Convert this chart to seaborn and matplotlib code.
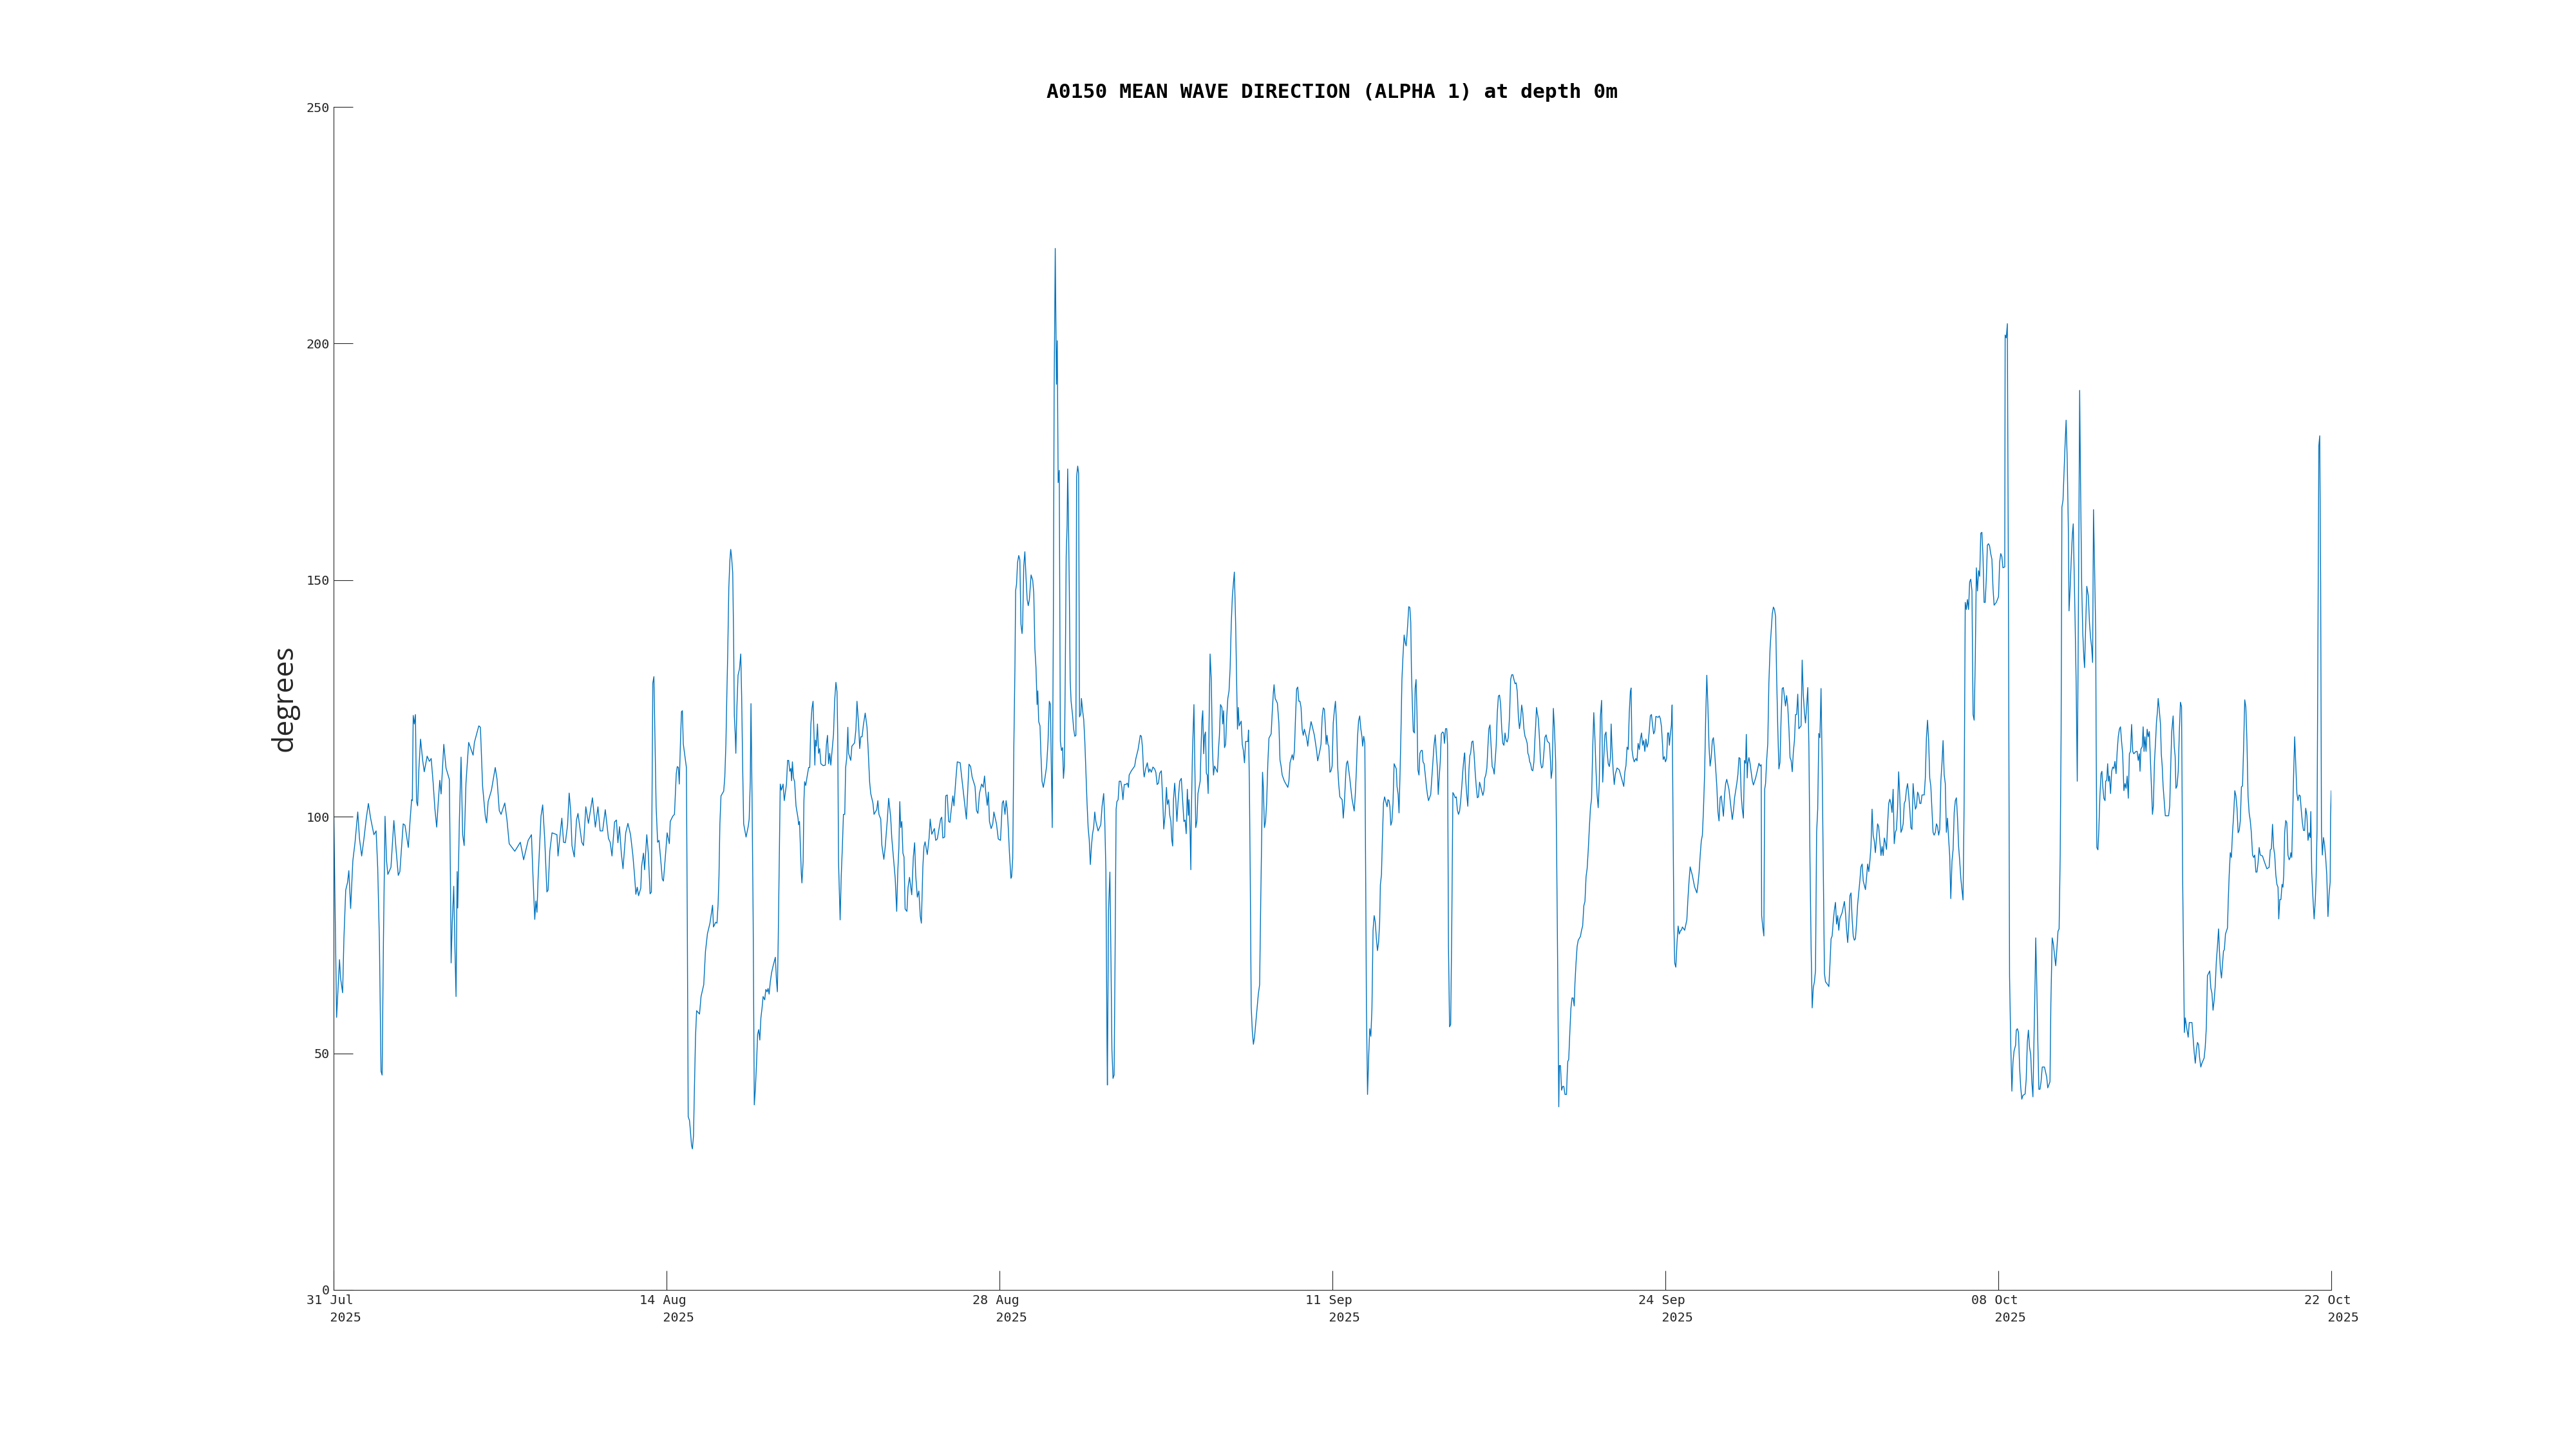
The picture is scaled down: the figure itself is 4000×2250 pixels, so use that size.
import pandas as pd
import matplotlib
matplotlib.use('Agg')
import matplotlib.pyplot as plt
import matplotlib.dates as mdates
import seaborn as sns

# buoy A0150, mean wave direction (alpha 1)
# each segment: (hours since 31 Jul 2025 00:00, degrees)
start = pd.Timestamp('2025-07-31 00:00')
title = 'A0150 MEAN WAVE DIRECTION (ALPHA 1) at depth 0m'
tick_days = ['31 Jul', '14 Aug', '28 Aug', '11 Sep', '24 Sep', '08 Oct', '22 Oct']
tick_year = '2025'
y_ticks = [0, 50, 100, 150, 200, 250]

seg_jul31 = [
    (0, 104.0), (3.0, 57.6), (5.9, 69.8), (7.0, 65.8), (9.0, 62.8), (10.3, 74.3), (12.1, 84.5),
    (13.9, 86.1), (15.2, 88.6), (17.0, 80.6), (19.2, 90.7), (21.4, 94.6), (24.1, 101.0),
    (25.8, 95.4), (28.0, 91.7), (30.3, 95.4), (32.5, 99.5), (34.7, 102.8), (36.9, 99.7),
    (40.2, 96.2), (42.4, 97.0), (44.0, 89.2), (45.7, 73.6), (47.3, 46.2), (48.4, 45.4),
    (49.7, 73.6), (51.3, 100.1), (52.8, 90.7), (54.1, 87.8), (57.2, 89.3), (60.1, 99.2),
    (62.3, 93.1), (64.5, 87.6), (66.1, 88.4), (69.4, 98.5), (71.2, 98.2), (74.5, 93.5),
    (76.3, 99.3), (77.8, 103.6), (78.5, 103.4), (79.4, 121.4), (80.5, 119.6), (81.6, 121.6),
    (82.7, 103.2), (83.8, 102.3), (85.1, 110.3), (86.7, 116.4), (88.9, 111.8), (90.4, 109.5),
    (93.3, 112.8), (95.5, 111.7), (97.3, 112.3), (99.3, 107.1), (101.0, 101.7), (102.8, 97.8),
    (104.4, 103.2), (105.9, 107.7), (107.2, 104.8), (109.9, 115.3), (112.1, 110.3),
    (115.4, 107.9), (116.5, 87.6), (117.2, 69.1), (118.3, 77.5), (119.8, 85.3), (121.0, 72.0),
    (122.1, 62.0), (123.2, 88.4), (123.8, 80.7), (125.4, 99.0), (127.1, 112.6), (128.7, 96.2),
    (130.2, 93.9), (132.0, 107.1), (134.7, 115.7), (139.1, 113.0), (140.4, 115.7),
    (144.8, 119.2), (146.4, 118.9), (148.6, 106.4), (151.3, 100.1), (152.6, 98.7),
    (154.1, 103.2), (157.4, 105.6), (161.2, 110.4), (163.0, 107.9), (165.2, 101.3),
    (167.0, 100.5), (170.7, 102.9), (172.9, 99.3), (175.1, 94.3), (180.7, 92.7), (186.2, 94.6),
    (189.5, 90.9), (194.0, 95.0), (197.3, 96.2), (198.8, 87.6), (200.6, 78.3), (201.7, 82.2),
    (202.8, 79.8), (203.9, 86.8), (206.8, 100.1), (208.5, 102.5), (210.5, 95.4), (212.7, 84.1),
    (213.9, 84.5), (215.6, 92.7), (217.8, 96.6), (222.7, 96.2), (223.8, 91.7), (226.0, 96.5),
    (227.6, 99.7), (229.3, 94.6), (231.1, 94.5), (233.3, 98.2), (234.9, 105.0), (236.4, 101.3),
    (237.7, 93.9), (240.0, 91.5), (242.2, 99.3), (243.7, 100.7), (247.5, 94.6), (249.2, 93.9),
    (251.5, 102.1), (254.1, 98.6), (258.1, 104.0), (261.0, 97.8), (263.6, 102.1),
    (265.8, 97.0), (268.3, 97.0), (270.9, 101.5), (274.1, 95.4), (275.8, 94.6), (277.6, 91.7),
    (280.2, 98.9), (282.0, 99.3), (283.5, 94.5), (285.1, 97.9), (286.9, 92.3), (288.6, 89.0),
    (291.3, 96.6), (293.5, 98.6), (296.1, 96.2), (298.4, 91.9), (300.1, 87.6), (301.4, 83.6),
    (302.8, 85.1), (304.1, 83.3), (306.3, 84.9), (307.2, 89.6), (309.0, 92.3), (310.1, 88.8),
    (312.3, 96.2), (313.8, 92.3), (315.6, 83.7), (316.9, 84.1), (318.3, 128.2), (319.4, 129.6),
    (321.6, 102.3), (323.1, 94.6), (324.5, 95.0), (325.8, 91.9), (327.8, 86.8), (328.9, 86.4),
    (331.1, 92.3), (332.6, 96.6), (334.8, 94.3), (335.7, 99.0), (338.2, 100.1), (339.9, 100.5),
    (341.7, 109.1),
]

seg_aug14 = [
    (342.7, 110.6), (343.8, 110.4), (344.7, 106.9), (346.1, 117.4), (346.9, 122.2),
    (347.8, 122.4), (348.7, 115.4), (350.9, 111.9), (351.8, 110.4), (352.7, 77.5),
    (353.6, 36.6), (354.9, 35.8), (355.8, 33.6), (356.9, 30.6), (357.8, 29.8), (358.9, 32.6),
    (359.8, 42.6), (360.9, 53.5), (362.0, 59.0), (364.9, 58.3), (366.4, 62.0), (369.1, 64.5),
    (370.8, 71.5), (372.8, 75.3), (375.3, 77.5), (377.9, 81.3), (378.8, 76.7), (381.0, 77.7),
    (382.3, 77.5), (383.4, 81.5), (384.3, 87.5), (385.2, 98.5), (386.3, 104.4), (389.0, 105.4),
    (390.1, 108.4), (391.2, 115.4), (392.1, 125.4), (393.0, 134.4), (394.1, 148.4),
    (395.2, 154.3), (396.0, 156.5), (396.9, 154.8), (398.0, 151.5), (398.9, 137.4),
    (399.6, 121.4), (400.5, 117.4), (401.1, 113.4), (402.2, 123.4), (403.3, 129.9),
    (404.7, 131.2), (406.0, 134.4), (406.9, 125.4), (408.0, 109.4), (408.9, 98.5),
    (410.2, 97.0), (411.3, 95.7), (413.5, 98.0), (414.4, 99.5), (415.5, 107.4), (416.2, 123.9),
    (417.3, 103.4), (418.4, 77.5), (419.5, 39.1), (420.6, 42.6), (421.7, 47.6), (422.8, 54.0),
    (423.9, 55.0), (425.0, 52.8), (426.1, 57.5), (427.2, 59.5), (428.3, 62.0), (429.9, 61.3),
    (431.0, 63.5), (432.3, 63.0), (433.2, 63.7), (434.3, 62.5), (435.4, 65.0), (436.7, 67.0),
    (438.3, 68.5), (440.5, 70.3), (441.6, 65.5), (442.5, 63.0), (443.4, 74.5), (444.3, 89.5),
    (445.4, 106.9), (446.5, 105.6), (448.2, 106.9), (449.4, 103.4), (451.6, 106.9),
    (452.7, 111.9), (453.8, 111.9), (454.9, 109.6), (456.0, 110.2), (456.7, 107.6),
    (457.5, 111.6), (458.6, 108.2), (459.7, 107.4), (461.1, 102.3), (463.1, 99.7),
    (463.7, 98.3), (464.6, 99.0), (465.5, 93.5), (466.4, 88.0), (467.0, 86.0), (468.2, 90.5),
    (469.0, 103.4), (469.7, 107.4), (470.8, 106.6), (472.1, 108.4), (473.7, 110.4),
    (474.8, 110.4), (475.9, 119.4), (477.0, 122.9), (478.1, 124.4), (479.2, 116.4),
    (479.9, 110.9), (480.5, 116.2), (481.4, 114.9), (482.5, 119.6), (483.6, 113.4),
    (484.7, 114.4), (485.9, 111.2), (488.1, 110.8), (490.3, 110.9), (491.4, 115.2),
    (492.5, 117.2), (493.6, 111.2), (494.7, 113.4), (495.8, 110.9), (498.5, 117.4),
    (499.6, 124.4), (500.9, 128.4), (502.0, 126.4), (502.7, 117.4), (503.5, 90.5),
    (505.1, 78.2), (506.2, 87.5), (507.3, 93.5), (508.4, 100.5), (509.7, 100.5),
    (510.6, 110.4), (511.7, 112.4), (512.8, 118.9), (513.5, 113.4), (515.7, 111.9),
    (516.8, 114.9), (519.5, 115.6), (520.8, 118.4), (521.9, 124.4), (523.5, 119.6),
    (524.6, 114.4), (525.7, 116.9), (527.0, 116.9), (528.3, 119.4), (530.1, 121.9),
    (531.9, 118.9), (533.0, 114.4), (534.5, 107.4), (535.6, 104.9), (537.8, 102.9),
    (538.9, 100.5), (541.6, 101.5), (542.7, 103.4), (543.8, 100.5), (545.6, 99.5),
    (546.7, 94.0), (548.7, 91.0), (550.0, 93.5), (552.2, 99.5), (553.5, 103.9), (555.5, 99.9),
    (556.6, 95.5), (558.8, 90.0), (560.0, 87.0), (561.5, 80.0), (562.6, 88.5), (563.7, 93.5),
    (564.6, 103.2), (565.5, 97.7), (566.6, 99.0), (567.7, 92.3), (568.8, 91.5), (569.9, 80.5),
    (571.7, 80.0), (572.8, 85.0), (574.3, 87.2), (576.5, 83.5), (578.1, 91.5), (579.4, 94.5),
    (580.5, 87.5), (582.1, 83.0), (583.6, 84.3), (585.0, 79.0), (586.1, 77.5), (587.6, 89.5),
    (588.7, 93.7), (589.8, 94.7), (592.0, 92.0), (593.8, 95.5), (594.9, 99.5), (596.5, 96.3),
    (599.1, 97.5), (600.4, 95.0), (602.0, 95.3), (605.3, 99.5), (606.4, 99.9), (607.5, 95.5),
    (609.3, 95.7), (610.4, 104.4), (611.9, 104.6), (613.3, 99.0), (614.6, 98.8),
    (615.9, 101.5), (617.5, 104.4), (618.6, 102.3), (620.3, 107.4), (621.9, 111.6),
    (624.8, 111.4), (626.3, 108.4), (628.8, 103.6), (631.0, 99.5), (632.3, 105.4),
    (633.6, 111.1), (635.2, 110.6), (636.7, 108.4), (639.6, 106.4), (641.1, 101.3),
    (642.5, 100.7), (644.0, 104.9), (646.2, 106.9), (647.8, 106.2), (649.1, 108.6),
    (650.2, 105.4), (651.8, 102.4), (652.9, 105.2), (654.0, 99.0), (655.7, 97.5),
    (657.3, 98.5), (658.4, 101.0), (661.0, 98.5), (662.8, 95.3), (665.0, 95.0), (666.8, 102.9),
    (667.9, 103.4), (669.5, 100.5), (670.6, 103.4), (671.7, 101.6), (672.8, 97.5),
    (673.9, 92.5), (675.4, 87.0),
]

seg_aug28 = [
    (676.1, 87.3), (677.2, 91.2), (678.3, 114.6), (679.4, 131.5), (680.1, 147.8),
    (681.0, 149.1), (682.0, 153.7), (683.2, 155.2), (684.3, 154.3), (685.4, 140.7),
    (686.5, 138.7), (687.1, 140.7), (688.2, 153.0), (689.3, 156.0), (690.5, 150.4),
    (691.6, 145.9), (692.7, 144.6), (693.8, 145.9), (695.5, 151.1), (697.1, 150.0),
    (698.2, 147.2), (699.3, 135.5), (700.4, 131.5), (701.5, 123.7), (702.2, 126.6),
    (703.1, 120.1), (704.4, 119.2), (705.3, 113.3), (706.4, 107.5), (707.7, 106.2),
    (709.3, 108.1), (711.0, 110.7), (712.4, 115.9), (713.7, 124.4), (714.8, 123.7),
    (715.4, 114.6), (716.6, 97.7), (717.7, 140.7), (718.5, 190.1), (719.6, 220.1),
    (720.8, 191.4), (721.6, 200.6), (722.5, 170.6), (723.6, 173.2), (724.7, 115.9),
    (725.8, 114.0), (726.9, 114.6), (727.8, 108.1), (728.7, 110.7), (729.6, 130.2),
    (730.5, 155.0), (731.4, 161.5), (732.0, 173.5), (732.7, 164.1), (733.6, 148.5),
    (734.5, 128.9), (735.4, 124.4), (736.7, 121.8), (738.0, 118.5), (739.1, 117.0),
    (740.2, 117.2), (740.9, 171.9), (742.0, 174.1), (742.9, 172.6), (743.8, 121.1),
    (745.1, 121.8), (745.7, 125.0), (746.9, 122.4), (748.0, 120.5), (749.1, 115.9),
    (750.2, 109.4), (751.3, 102.9), (752.4, 97.7), (753.5, 95.1), (754.6, 89.9), (755.7, 93.8),
    (756.8, 96.4), (757.9, 97.7), (759.0, 101.0), (760.1, 99.0), (762.3, 97.0), (765.0, 98.3),
    (766.3, 102.2), (767.9, 104.9), (769.0, 99.0), (770.1, 88.6), (771.2, 52.1), (771.6, 43.3),
    (772.7, 80.1), (774.1, 88.3), (775.2, 69.0), (776.1, 50.8), (777.2, 44.7), (778.3, 45.4),
    (779.2, 69.0), (780.3, 101.6), (781.1, 103.2), (782.3, 103.6), (783.4, 107.5),
    (784.9, 107.5), (786.0, 106.2), (787.1, 103.6), (788.4, 106.8), (790.0, 106.8),
    (791.5, 107.1), (792.6, 106.2), (793.3, 108.8), (795.5, 109.7), (798.8, 110.7),
    (800.0, 112.3), (802.2, 114.2), (804.4, 117.2), (805.5, 117.0), (806.6, 114.6),
    (807.7, 109.4), (808.3, 108.4), (809.7, 110.1), (811.4, 111.4), (812.8, 109.4),
    (813.9, 110.1), (815.4, 109.4), (817.0, 110.5), (818.7, 110.1), (819.9, 109.4),
    (821.2, 106.8), (822.5, 107.1), (823.8, 109.2), (825.4, 109.7), (826.9, 102.9),
    (827.8, 97.4), (829.1, 100.3), (830.5, 106.2), (831.4, 102.6), (832.7, 103.6),
    (833.8, 100.3), (834.9, 99.0), (835.8, 95.1), (836.7, 93.8), (837.5, 103.6),
    (838.7, 107.1), (839.8, 103.6), (840.9, 99.0), (842.0, 102.9), (843.7, 107.5),
    (845.3, 108.1), (846.8, 102.9), (847.9, 99.0), (849.1, 99.3), (850.2, 96.4),
    (851.3, 105.8), (852.4, 100.3), (853.0, 103.6), (854.1, 96.4), (854.8, 88.8),
    (855.2, 99.0), (856.4, 113.3), (857.9, 123.7), (858.8, 110.7), (859.7, 97.7),
    (860.8, 99.0), (861.9, 104.9), (863.0, 106.2), (864.1, 107.5), (865.0, 114.6),
    (865.9, 120.5), (866.7, 122.4), (867.6, 113.3), (868.5, 117.2), (869.4, 117.9),
    (870.3, 109.2), (871.2, 108.8), (872.1, 104.9), (872.9, 118.5), (874.0, 134.4),
    (875.2, 128.9), (876.3, 114.6), (877.4, 108.8), (878.5, 110.7), (881.3, 109.4),
    (882.5, 114.6), (883.3, 117.2), (884.4, 123.7), (885.8, 123.1), (886.6, 119.6),
    (887.5, 122.4), (888.4, 114.6), (889.5, 115.3), (890.6, 121.1), (891.7, 125.0),
    (892.9, 126.6), (894.0, 131.5), (895.1, 140.7), (896.2, 146.5), (897.3, 149.5),
    (898.2, 151.7), (899.5, 140.7), (900.6, 127.6), (901.3, 118.5), (902.1, 123.1),
    (903.0, 119.2), (905.0, 120.2), (906.1, 115.3), (907.2, 114.0), (908.3, 111.4),
    (909.4, 115.9), (911.7, 115.9), (912.3, 118.3), (913.2, 106.8), (914.1, 86.0),
    (915.0, 59.9), (916.1, 54.7), (917.2, 51.9), (918.3, 53.4), (919.4, 56.0), (920.5, 58.6),
    (922.1, 62.5), (923.4, 64.5), (924.5, 82.1), (925.4, 95.1), (926.3, 109.4),
    (927.1, 106.2), (928.2, 97.7), (929.3, 99.0), (930.4, 102.9), (931.6, 111.4),
    (932.7, 116.6), (934.9, 117.5), (936.0, 122.2), (937.1, 126.3), (937.8, 127.9),
    (938.9, 125.0), (941.1, 124.0), (942.6, 119.8), (943.7, 112.0), (944.8, 110.7),
    (945.9, 108.8), (948.1, 107.5), (951.5, 106.2), (952.6, 107.5), (953.7, 111.4),
    (955.9, 113.1), (957.0, 112.0), (958.1, 114.0), (959.2, 121.1), (960.3, 127.0),
    (961.4, 127.4), (962.5, 124.4), (963.6, 124.4), (964.7, 123.1), (965.8, 118.5),
    (966.9, 117.2), (968.0, 118.5), (970.3, 116.6), (971.4, 114.9), (972.5, 117.2),
    (974.7, 120.1), (975.8, 119.2), (978.0, 117.2), (980.2, 114.0), (981.3, 111.8),
    (983.5, 114.0), (984.6, 115.3), (985.8, 121.1), (986.9, 123.0), (988.0, 122.7),
    (989.1, 118.5), (989.7, 115.3), (990.6, 117.2), (991.5, 115.3), (992.4, 114.9),
    (993.5, 109.4), (994.6, 109.7), (995.7, 110.7), (996.8, 119.8), (997.9, 122.4),
    (999.0, 124.4), (1000.1, 119.6), (1001.2, 110.7), (1002.3, 106.8), (1003.4, 104.2),
    (1005.7, 103.6), (1006.8, 99.7), (1007.9, 102.9), (1009.4, 109.4),
]

seg_sep11 = [
    (1010.0, 111.2), (1011.1, 111.8), (1013.3, 108.1), (1015.5, 103.8), (1017.7, 101.2),
    (1018.8, 104.7), (1019.9, 109.9), (1021.0, 116.8), (1022.1, 120.3), (1023.2, 121.3),
    (1024.3, 118.6), (1025.5, 116.8), (1026.1, 114.9), (1027.2, 117.0), (1028.3, 115.5),
    (1029.2, 85.6), (1029.9, 59.5), (1031.0, 41.3), (1032.1, 49.1), (1033.2, 55.2),
    (1034.3, 53.6), (1035.4, 59.5), (1036.5, 76.0), (1037.6, 79.1), (1038.7, 77.8),
    (1039.8, 74.3), (1040.9, 71.7), (1042.0, 73.4), (1043.1, 77.8), (1043.8, 85.6),
    (1044.9, 87.8), (1045.8, 95.1), (1046.9, 102.9), (1048.0, 104.2), (1049.3, 103.1),
    (1050.5, 102.1), (1051.3, 103.6), (1052.4, 103.4), (1053.3, 102.1), (1054.2, 98.2),
    (1055.3, 99.0), (1056.4, 102.9), (1057.5, 111.2), (1059.7, 110.1), (1060.4, 106.4),
    (1061.5, 104.7), (1062.4, 100.8), (1063.5, 109.9), (1064.4, 118.6), (1065.3, 129.0),
    (1066.4, 134.2), (1067.5, 138.4), (1068.6, 136.8), (1069.5, 136.1), (1070.4, 138.5),
    (1071.2, 141.1), (1072.1, 144.4), (1073.2, 144.2), (1074.1, 141.1), (1074.8, 130.7),
    (1075.7, 123.8), (1076.6, 118.1), (1077.7, 117.7), (1078.5, 127.2), (1079.4, 129.0),
    (1080.3, 122.0), (1081.2, 109.9), (1082.3, 108.8), (1083.2, 113.4), (1084.5, 114.0),
    (1085.6, 114.0), (1086.3, 111.6), (1087.4, 111.2), (1088.5, 109.0), (1089.6, 106.6),
    (1090.7, 104.7), (1091.8, 103.4), (1094.0, 104.7), (1095.1, 108.1), (1096.2, 111.6),
    (1097.3, 115.1), (1098.5, 117.3), (1099.6, 113.4), (1100.7, 110.1), (1101.5, 104.7),
    (1102.4, 108.1), (1103.5, 111.6), (1104.6, 117.5), (1105.8, 117.9), (1106.9, 117.7),
    (1107.7, 115.5), (1108.8, 118.6), (1110.0, 118.6), (1110.8, 115.1), (1111.7, 72.6),
    (1112.8, 55.6), (1113.9, 56.1), (1115.0, 76.9), (1116.1, 105.1), (1117.2, 104.7),
    (1118.4, 104.0), (1119.5, 104.2), (1120.6, 101.4), (1121.7, 100.5), (1122.8, 101.2),
    (1123.9, 103.4), (1125.0, 106.4), (1126.1, 109.9), (1127.2, 112.5), (1127.9, 113.5),
    (1128.8, 108.1), (1129.9, 104.7), (1131.0, 102.2), (1132.1, 109.9), (1133.0, 112.9),
    (1133.8, 113.4), (1135.0, 115.8), (1136.1, 116.0), (1137.2, 113.4), (1138.3, 109.5),
    (1139.4, 106.4), (1140.5, 104.0), (1141.6, 104.2), (1142.7, 107.3), (1143.8, 106.4),
    (1144.9, 105.4), (1146.0, 104.5), (1147.1, 105.5), (1147.8, 108.1), (1148.9, 108.8),
    (1150.0, 110.3), (1151.1, 115.1), (1152.0, 118.6), (1153.1, 119.4), (1154.2, 115.1),
    (1155.3, 110.6), (1156.4, 110.1), (1157.3, 109.0), (1158.2, 111.6), (1159.3, 115.1),
    (1160.4, 122.0), (1161.5, 125.5), (1162.6, 125.7), (1163.7, 123.8), (1164.8, 118.6),
    (1165.9, 115.5), (1167.0, 115.1), (1168.1, 117.7), (1169.2, 116.1), (1170.3, 115.8),
    (1171.4, 116.8), (1172.6, 121.2), (1173.7, 129.0), (1174.8, 130.0), (1175.9, 130.0),
    (1177.0, 129.0), (1178.1, 128.1), (1179.2, 128.3), (1180.3, 126.4), (1181.4, 121.2),
    (1182.5, 118.6), (1183.6, 120.3), (1184.7, 123.6), (1185.8, 122.0), (1186.9, 118.6),
    (1188.0, 117.0), (1189.1, 116.4), (1190.2, 115.5), (1190.9, 113.4), (1191.8, 112.9),
    (1192.7, 111.6), (1193.6, 111.2), (1194.7, 109.9), (1195.8, 109.7), (1196.9, 111.6),
    (1198.0, 116.8), (1198.7, 119.4), (1199.5, 123.1), (1200.2, 122.0), (1201.3, 120.7),
    (1202.4, 116.8), (1203.5, 111.6), (1204.6, 110.3), (1205.7, 110.6), (1206.8, 113.4),
    (1207.9, 116.8), (1209.1, 117.3), (1210.2, 116.0), (1212.4, 115.5), (1213.5, 111.6),
    (1214.1, 108.1), (1215.2, 109.9), (1216.3, 122.9), (1217.4, 118.6), (1218.6, 111.6),
    (1219.5, 94.3), (1220.6, 68.2), (1221.7, 38.7), (1222.3, 47.4), (1223.4, 47.4),
    (1224.5, 42.2), (1225.6, 43.0), (1226.7, 43.0), (1227.9, 41.3), (1229.4, 41.3),
    (1230.1, 45.7), (1230.7, 48.3), (1231.6, 48.7), (1232.7, 54.3), (1233.8, 59.5),
    (1234.9, 61.7), (1236.0, 61.7), (1237.1, 60.0), (1237.8, 64.7), (1238.9, 69.1),
    (1240.0, 72.6), (1241.1, 73.9), (1242.2, 74.3), (1243.3, 74.7), (1244.4, 76.0),
    (1245.5, 76.9), (1246.7, 81.2), (1247.8, 82.1), (1248.9, 87.3), (1250.0, 89.1),
    (1251.1, 93.0), (1252.2, 97.7), (1253.3, 101.9), (1254.4, 103.8), (1255.5, 114.2),
    (1256.6, 122.0), (1257.7, 116.8), (1258.8, 109.9), (1259.9, 104.7), (1261.0, 101.9),
    (1262.1, 107.3), (1263.2, 121.2), (1264.4, 124.6), (1265.5, 107.3), (1266.6, 112.5),
    (1267.7, 117.3), (1268.8, 117.9), (1269.9, 113.8), (1271.0, 111.2), (1272.1, 110.6),
    (1273.2, 112.5), (1273.9, 119.6), (1274.7, 115.1), (1275.9, 109.9), (1277.0, 106.8),
    (1278.1, 109.0), (1279.8, 110.3), (1282.0, 109.9), (1284.3, 108.1), (1286.5, 106.4),
    (1287.6, 109.5), (1288.7, 110.8), (1289.8, 114.7), (1290.9, 114.2), (1292.0, 122.0),
    (1293.1, 126.5), (1293.8, 127.2), (1294.7, 114.2), (1295.8, 112.5), (1296.9, 111.6),
    (1298.6, 112.3), (1299.7, 111.8), (1300.8, 115.5), (1302.0, 114.2), (1303.1, 116.4),
    (1304.2, 117.7), (1305.3, 115.1), (1306.4, 116.1), (1307.5, 113.8), (1308.6, 116.4),
    (1309.7, 114.7), (1310.8, 115.5), (1311.9, 118.1), (1313.0, 121.3), (1314.1, 121.6),
    (1315.2, 119.4), (1316.3, 117.5), (1317.4, 118.1), (1318.5, 121.2), (1320.8, 121.0),
    (1321.9, 121.3), (1323.0, 120.7), (1324.1, 119.0), (1325.2, 115.1), (1325.8, 112.1),
    (1327.0, 112.7), (1328.1, 111.6), (1329.2, 112.3), (1330.3, 117.7), (1331.2, 117.7),
    (1332.0, 115.1), (1332.9, 117.3), (1334.0, 119.4), (1334.7, 123.6), (1335.6, 99.5),
    (1336.5, 76.9), (1337.3, 69.1), (1338.4, 68.2), (1339.6, 73.4), (1340.7, 76.9),
    (1341.8, 75.2), (1343.3, 76.0),
]

seg_sep24 = [
    (1343.9, 76.0), (1345.0, 76.7), (1347.2, 76.0), (1349.4, 78.2), (1350.5, 82.7),
    (1351.6, 86.4), (1352.7, 89.4), (1354.9, 87.6), (1357.1, 85.2), (1359.4, 83.9),
    (1360.5, 85.8), (1361.6, 88.2), (1362.7, 91.8), (1363.8, 94.9), (1364.9, 96.1),
    (1366.0, 101.6), (1367.1, 108.9), (1368.2, 121.0), (1369.3, 129.9), (1370.4, 123.4),
    (1371.5, 114.9), (1372.6, 110.7), (1373.7, 112.5), (1374.8, 116.1), (1375.9, 116.7),
    (1377.1, 113.7), (1378.2, 110.1), (1379.3, 106.4), (1380.4, 101.0), (1381.5, 99.1),
    (1382.6, 104.0), (1383.7, 104.4), (1385.9, 100.1), (1387.0, 104.6), (1388.1, 107.0),
    (1389.2, 107.9), (1391.4, 105.8), (1393.6, 101.6), (1394.7, 99.4), (1395.9, 101.3),
    (1397.0, 104.0), (1399.2, 107.0), (1400.3, 108.9), (1401.4, 112.5), (1402.5, 112.3),
    (1403.6, 104.6), (1404.7, 101.6), (1405.8, 99.7), (1406.9, 111.9), (1408.0, 111.3),
    (1408.7, 117.4), (1409.6, 108.2), (1410.2, 111.3), (1411.3, 112.5), (1412.4, 111.3),
    (1414.7, 107.6), (1415.8, 106.7), (1418.0, 108.2), (1419.1, 109.2), (1421.3, 111.3),
    (1422.4, 110.7), (1423.5, 111.0), (1424.0, 79.1), (1425.1, 76.7), (1426.2, 74.8),
    (1427.0, 105.8), (1427.9, 107.0), (1429.0, 111.9), (1430.1, 115.5), (1431.2, 128.3),
    (1432.4, 135.6), (1433.5, 139.2), (1434.6, 142.9), (1435.7, 144.3), (1436.8, 143.8),
    (1437.9, 142.3), (1439.0, 128.9), (1440.1, 118.6), (1441.2, 110.1), (1442.3, 111.5),
    (1443.4, 121.0), (1444.5, 127.1), (1445.6, 127.3), (1447.8, 123.4), (1448.9, 125.6),
    (1450.0, 123.4), (1451.2, 118.6), (1452.3, 112.5), (1453.4, 111.9), (1454.5, 109.5),
    (1455.6, 113.7), (1456.7, 116.1), (1457.8, 121.6), (1458.9, 121.6), (1460.0, 125.9),
    (1461.1, 118.6), (1463.3, 119.2), (1464.4, 133.1), (1465.5, 125.9), (1466.6, 122.2),
    (1467.7, 119.8), (1468.9, 123.4), (1470.0, 127.3), (1471.1, 114.9), (1472.2, 90.6),
    (1473.3, 72.4), (1474.4, 59.6), (1475.5, 63.9), (1476.6, 65.1), (1477.7, 67.5),
    (1478.8, 96.7), (1479.9, 101.6), (1481.0, 117.6), (1482.1, 116.7), (1483.2, 127.1),
    (1484.3, 111.3), (1485.4, 90.6), (1486.6, 66.9), (1487.7, 65.1), (1489.9, 64.5),
    (1491.0, 64.1), (1492.1, 68.8), (1493.2, 74.2), (1494.3, 74.8), (1495.4, 77.9),
    (1496.5, 80.3), (1497.6, 81.9), (1498.7, 77.3), (1499.8, 79.1), (1500.9, 76.0),
    (1502.0, 78.5), (1504.2, 79.7), (1506.5, 82.1), (1507.6, 79.7), (1508.7, 76.0),
    (1509.8, 73.4), (1510.9, 77.3), (1512.0, 83.3), (1513.1, 83.9), (1514.2, 78.5),
    (1515.3, 74.8), (1516.4, 73.9), (1517.5, 74.2), (1518.6, 77.3), (1519.7, 81.5),
    (1520.8, 83.9), (1521.9, 86.4), (1523.0, 89.4), (1524.2, 90.0), (1525.3, 86.4),
    (1527.5, 84.6), (1528.6, 87.2), (1529.7, 90.0), (1530.8, 88.4), (1531.9, 90.6),
    (1533.0, 93.7), (1534.1, 101.6), (1535.2, 96.1), (1536.3, 94.9), (1537.4, 92.4),
    (1538.5, 95.5), (1539.6, 98.5), (1540.7, 97.9), (1541.8, 94.9), (1543.0, 91.8),
    (1544.1, 93.7), (1545.2, 91.8), (1546.3, 95.5), (1547.4, 94.5), (1548.5, 93.1),
    (1549.6, 98.5), (1550.7, 102.8), (1551.8, 103.7), (1552.9, 102.8), (1554.0, 100.9),
    (1555.1, 105.8), (1556.2, 94.3), (1557.3, 96.7), (1558.4, 97.3), (1559.5, 101.6),
    (1560.6, 109.5), (1561.8, 104.0), (1562.9, 96.7), (1564.0, 97.3), (1565.1, 98.5),
    (1566.2, 102.8), (1567.3, 103.4), (1568.4, 105.8), (1569.5, 107.0), (1570.6, 104.6),
    (1571.7, 101.6), (1572.8, 97.7), (1573.9, 97.3), (1575.0, 107.0), (1576.1, 104.0),
    (1577.3, 101.6), (1578.4, 102.2), (1579.5, 105.2), (1580.6, 104.6), (1581.7, 102.8),
    (1582.8, 102.8), (1583.9, 104.6), (1586.1, 104.6), (1587.2, 108.2), (1588.3, 116.7),
    (1589.4, 120.4), (1590.5, 116.1), (1591.6, 108.2), (1592.7, 106.4), (1593.8, 101.6),
    (1594.9, 96.7), (1596.0, 96.1), (1597.2, 96.7), (1598.3, 98.5), (1599.4, 97.9),
    (1600.5, 96.1), (1601.6, 97.3), (1602.7, 107.6), (1603.8, 111.3), (1604.9, 116.1),
    (1606.0, 108.9), (1607.1, 107.0), (1608.2, 96.7), (1609.3, 99.7), (1610.4, 95.5),
    (1611.5, 91.8), (1612.6, 82.7), (1613.8, 90.6), (1614.9, 93.1), (1616.0, 100.9),
    (1617.1, 103.4), (1618.2, 104.0), (1619.3, 99.7), (1620.4, 93.7), (1621.5, 90.6),
    (1622.6, 87.0), (1623.7, 84.6), (1624.8, 82.4), (1625.9, 102.8), (1627.0, 145.3),
    (1628.1, 143.8), (1629.2, 145.9), (1630.3, 143.8), (1631.4, 149.6), (1632.5, 150.2),
    (1633.7, 147.7), (1634.8, 121.6), (1635.9, 120.4), (1637.0, 133.1), (1638.1, 152.6),
    (1639.2, 147.7), (1640.3, 152.0), (1641.4, 150.8), (1642.5, 159.9), (1643.6, 160.1),
    (1644.7, 155.0), (1645.8, 145.3), (1646.9, 145.3), (1648.0, 150.2), (1649.1, 157.4),
    (1650.2, 157.7), (1651.3, 157.2), (1652.4, 155.6), (1653.6, 154.4), (1654.7, 148.3),
    (1655.8, 144.7), (1658.0, 145.3), (1660.2, 146.5), (1661.3, 153.8), (1662.4, 155.6),
    (1663.5, 155.0), (1664.6, 152.6), (1666.4, 152.8), (1666.8, 201.8), (1667.9, 201.2),
    (1669.0, 204.2), (1670.1, 145.3), (1671.2, 66.3), (1672.4, 51.7), (1673.5, 42.0),
    (1674.6, 48.1), (1675.7, 50.5), (1677.2, 51.7),
]

seg_oct08 = [
    (1677.9, 54.9), (1679.0, 55.2), (1680.1, 54.4), (1681.2, 47.1), (1682.3, 42.9),
    (1683.4, 40.3), (1684.5, 41.1), (1686.7, 41.4), (1687.8, 44.5), (1688.9, 52.3),
    (1690.0, 54.9), (1691.1, 51.3), (1692.3, 49.7), (1693.4, 44.0), (1694.5, 40.8),
    (1695.6, 53.4), (1696.7, 65.9), (1697.3, 74.4), (1698.2, 65.9), (1699.3, 53.4),
    (1700.4, 42.4), (1701.5, 42.4), (1702.6, 44.0), (1703.8, 47.1), (1706.0, 47.1),
    (1708.2, 45.0), (1709.3, 42.7), (1711.5, 44.0), (1712.4, 60.6), (1713.7, 74.4),
    (1714.8, 73.2), (1715.9, 71.1), (1717.2, 68.5), (1718.4, 72.1), (1719.5, 75.8),
    (1720.6, 76.3), (1721.7, 91.9), (1722.6, 118.0), (1723.4, 165.4), (1724.5, 166.9),
    (1725.6, 173.2), (1726.5, 178.4), (1727.6, 183.8), (1728.7, 175.3), (1729.9, 159.6),
    (1730.5, 143.5), (1731.6, 148.2), (1732.7, 154.4), (1733.8, 159.6), (1734.7, 161.9),
    (1735.4, 154.4), (1736.5, 141.9), (1737.6, 128.4), (1738.7, 107.5), (1739.4, 128.4),
    (1740.3, 159.6), (1741.1, 190.1), (1742.0, 170.1), (1743.1, 149.2), (1744.2, 138.8),
    (1745.3, 133.6), (1746.0, 131.5), (1746.9, 138.8), (1748.2, 148.7), (1749.8, 146.6),
    (1750.9, 140.9), (1752.0, 137.8), (1753.1, 135.7), (1754.0, 132.6), (1754.9, 164.9),
    (1756.0, 152.3), (1757.1, 138.8), (1757.5, 118.0), (1758.2, 93.5), (1759.3, 93.0),
    (1760.2, 97.1), (1761.3, 104.4), (1762.4, 109.1), (1763.3, 109.6), (1764.1, 106.5),
    (1765.2, 103.9), (1766.4, 103.4), (1767.0, 107.5), (1768.1, 107.7), (1769.0, 111.2),
    (1769.9, 107.5), (1770.8, 108.6), (1771.9, 104.9), (1773.0, 109.6), (1774.1, 110.5),
    (1775.2, 110.2), (1776.3, 111.7), (1777.4, 109.1), (1778.5, 113.8), (1779.6, 116.9),
    (1780.7, 118.5), (1781.8, 119.0), (1782.9, 115.9), (1784.0, 113.3), (1785.2, 105.5),
    (1786.3, 107.0), (1787.4, 106.0), (1788.5, 108.6), (1789.6, 103.9), (1790.7, 113.3),
    (1791.8, 113.8), (1792.9, 119.5), (1794.0, 113.8), (1795.1, 113.3), (1797.3, 113.8),
    (1798.4, 113.8), (1799.5, 111.9), (1800.6, 113.3), (1801.3, 109.6), (1802.2, 114.3),
    (1803.5, 114.8), (1804.4, 119.0), (1805.3, 113.8), (1806.2, 116.9), (1807.3, 113.8),
    (1808.4, 118.5), (1809.5, 116.9), (1810.6, 118.0), (1811.7, 111.7), (1812.8, 105.5),
    (1813.7, 100.5), (1814.6, 102.3), (1815.7, 111.7), (1816.8, 115.9), (1817.7, 120.0),
    (1818.6, 122.1), (1819.4, 125.0), (1820.5, 122.6), (1821.7, 119.5), (1822.5, 113.3),
    (1823.4, 110.7), (1824.3, 106.5), (1825.4, 103.4), (1826.5, 100.2), (1828.7, 100.2),
    (1829.8, 100.2), (1830.9, 102.3), (1832.1, 112.2), (1832.9, 118.0), (1834.3, 121.3),
    (1835.4, 114.8), (1836.3, 112.8), (1837.1, 106.0), (1838.2, 106.5), (1839.4, 109.6),
    (1840.5, 118.0), (1841.6, 124.2), (1842.7, 123.2), (1843.8, 86.7), (1844.9, 65.9),
    (1845.5, 54.4), (1846.4, 57.5), (1847.8, 55.4), (1849.3, 53.4), (1850.4, 56.5),
    (1853.1, 56.5), (1854.2, 53.4), (1855.3, 50.2), (1856.4, 47.9), (1857.5, 50.8),
    (1858.6, 52.3), (1859.7, 51.8), (1860.6, 49.2), (1861.9, 47.1), (1863.0, 47.9),
    (1865.2, 49.0), (1866.3, 51.3), (1867.4, 55.4), (1868.5, 66.4), (1870.8, 67.4),
    (1871.9, 63.8), (1873.0, 62.7), (1874.1, 59.1), (1875.2, 61.2), (1876.3, 64.3),
    (1877.4, 69.5), (1878.5, 72.6), (1879.6, 76.3), (1880.5, 71.6), (1881.4, 67.9),
    (1882.5, 65.9), (1883.6, 69.0), (1884.5, 71.6), (1885.4, 71.9), (1886.5, 75.2),
    (1888.5, 76.5), (1889.3, 82.5), (1890.2, 87.7), (1891.3, 92.4), (1892.4, 91.4),
    (1893.5, 96.6), (1894.6, 100.2), (1895.8, 105.5), (1896.9, 104.4), (1898.0, 101.8),
    (1899.1, 96.6), (1900.2, 97.1), (1901.3, 99.2), (1902.4, 106.3), (1903.5, 106.5),
    (1904.6, 114.8), (1905.7, 124.7), (1906.8, 123.2), (1907.9, 115.9), (1909.0, 104.4),
    (1910.1, 100.8), (1911.2, 99.2), (1912.3, 96.6), (1913.5, 91.9), (1914.6, 91.4),
    (1915.7, 91.9), (1916.8, 88.3), (1917.9, 88.3), (1919.0, 90.3), (1920.1, 93.5),
    (1921.2, 91.9), (1923.4, 91.7), (1925.6, 90.3), (1927.8, 89.0), (1930.0, 89.3),
    (1931.2, 93.0), (1932.3, 93.2), (1933.4, 98.4), (1934.5, 93.5), (1935.6, 91.9),
    (1936.7, 87.7), (1937.8, 85.7), (1938.9, 85.1), (1939.6, 78.4), (1940.7, 82.5),
    (1941.8, 82.5), (1942.9, 85.7), (1943.8, 85.1), (1944.6, 87.7), (1945.5, 96.6),
    (1946.6, 99.2), (1947.7, 98.7), (1948.8, 91.9), (1950.0, 90.9), (1951.1, 91.4),
    (1951.7, 92.4), (1952.6, 91.4), (1953.5, 100.2), (1954.4, 108.6), (1955.5, 116.9),
    (1956.6, 110.7), (1957.7, 104.9), (1958.8, 103.4), (1959.9, 104.6), (1961.0, 104.4),
    (1962.1, 101.3), (1963.2, 98.7), (1964.3, 97.1), (1965.4, 97.1), (1966.5, 101.8),
    (1967.7, 100.2), (1968.8, 95.0), (1969.9, 96.6), (1971.0, 95.6), (1971.6, 101.1),
    (1972.5, 88.3), (1973.8, 82.5), (1974.9, 78.4), (1976.1, 82.5), (1976.9, 87.2),
    (1977.8, 97.1), (1978.7, 138.8), (1979.6, 178.4), (1980.5, 180.5), (1981.4, 149.2),
    (1982.2, 97.1), (1983.1, 91.9), (1984.2, 95.6), (1985.3, 94.0), (1986.4, 91.4),
    (1987.5, 87.7), (1988.7, 78.9), (1989.8, 83.6), (1990.9, 86.2), (1991.3, 100.2),
    (1992.0, 105.5),
]

segments = [seg_jul31, seg_aug14, seg_aug28, seg_sep11, seg_sep24, seg_oct08]
df = pd.DataFrame([p for s in segments for p in s], columns=['hours', 'degrees'])
df['time'] = start + pd.to_timedelta(df['hours'], unit='h')

sns.set_style('ticks')
plt.rcParams['font.family'] = ['DejaVu Sans Mono', 'DejaVu Sans']

dark = '#262626'
fig = plt.figure(figsize=(40, 22.5), dpi=100)
ax = fig.add_axes([0.1295, 0.1098, 0.7755, 0.8164])

sns.lineplot(data=df, x='time', y='degrees', estimator=None, sort=False,
             color='#0072BD', linewidth=1.0, ax=ax)

# matlab-like axes: only left/bottom, inward ticks
sns.despine(ax=ax)
for side in ['left', 'bottom']:
    ax.spines[side].set_color(dark)
    ax.spines[side].set_linewidth(0.8)

t0, t1 = df['time'].iloc[0], df['time'].iloc[-1]
ax.set_xlim(mdates.date2num(t0), mdates.date2num(t1))
ticks = pd.date_range(t0, t1, periods=len(tick_days))
ax.set_xticks(mdates.date2num(ticks.to_pydatetime()))
ax.set_xticklabels([f'{d}\n   {tick_year}' for d in tick_days],
                   multialignment='left', linespacing=1.55)

ax.set_ylim(0, 250)
ax.set_yticks(y_ticks)
ax.set_yticklabels([str(v) for v in y_ticks])

ax.tick_params(axis='both', direction='in', length=21.6, width=0.8,
               color=dark, labelcolor=dark, labelsize=14.5)
ax.tick_params(axis='x', pad=5)
ax.tick_params(axis='y', pad=4.5)

ax.set_xlabel('')
ax.set_ylabel('degrees', fontsize=32, family=['Open Sans', 'DejaVu Sans'],
              color=dark, labelpad=8)
ax.set_title(title, fontsize=22.5, fontweight='bold', pad=10, color='black')

fig.savefig('out.png', dpi=100)
